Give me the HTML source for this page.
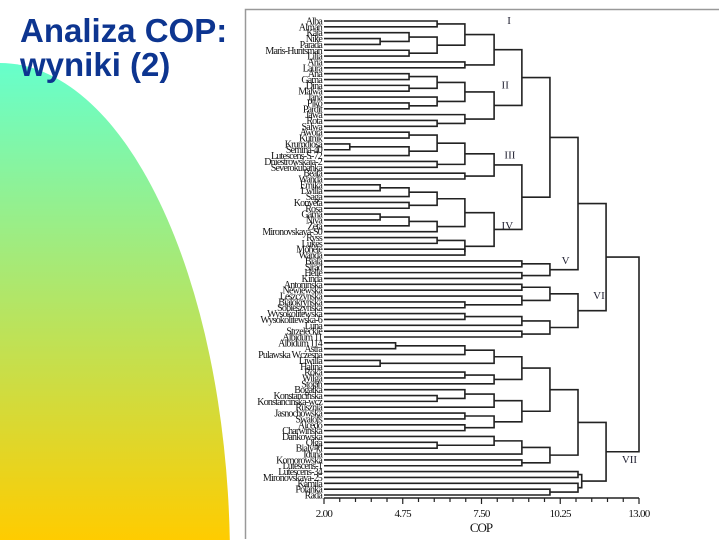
<!DOCTYPE html>
<html><head><meta charset="utf-8"><style>
html,body{margin:0;width:720px;height:540px;overflow:hidden}
body{background:#fff;position:relative;font-family:"Liberation Sans",sans-serif}
#title{position:absolute;left:20px;top:14px;font-size:33px;font-weight:bold;color:#0d3590;line-height:34px}
svg{position:absolute;left:0;top:0}
</style></head><body>
<svg width="720" height="540" style="position:absolute;left:0;top:0">
<defs><linearGradient id="g" x1="0" y1="63" x2="0" y2="540" gradientUnits="userSpaceOnUse"><stop offset="0" stop-color="#66ffcc"/><stop offset="1" stop-color="#ffcc00"/></linearGradient></defs>
<path d="M0,63 A230,497 0 0,1 229.8,540 L0,540 Z" fill="url(#g)"/>
</svg>
<div id="title">Analiza COP:<br>wyniki (2)</div>
<svg id="chart" width="720" height="540"></svg>
<script>
const leaves=["Alba","Alman","Kaja","Nike","Parada","Maris-Huntsman","Lilia","Aria","Laura","Ana","Gama","Dina","Malwa","Jana","Piko","Pardit","Jawa","Rota","Salwa","Awora","Kutnik","Krumdiosa","Semina-40","Lutescens-S-72","Dniestrowskaja-2","Severokubanka","Beata","Wanda","Emika","Lwilla","Saga","Konveta","Rosa","Gama","Niva","Zeta","Mironovskaya-S0","Ryss","Lukes","Mohele","Wanda","Biala","Sirad","Helle","Kinda","Antoninska","Newiewska","Leszczynska","Bialokrynska","Sobieszynska","Wysokolitewska","Wysokolitewska-6","Luna","Strzeleckie","Albidum 11","Albidum 114","Astra","Pulawska Wczesna","Liwilla","Halina","Roka","Wilga","Stojan","Bogatka","Konstancinska","Konstancinska-wcz","Rusznia","Jasnochowska","Swalofs","Alcedo","Charwinska","Dankowska","Olga","Bialy-kl","Iduna","Komorowska","Lutescens-1","Lutescens-34","Mironovskaya-25","Kamila","Polanka","Rada"];
const axisTicks=[2.00,4.75,7.50,10.25,13.00];
const clusterLabels=["I","II","III","IV","V","VI","VII"];
const clusterAt=[[8.4,0,"I"],[8.2,11,"II"],[8.3,23,"III"],[8.2,35,"IV"],[10.3,41,"V"],[11.4,47,"VI"],[12.4,75,"VII"]];
const T_I=[7.94,[6.92,[5.95,0,1],[5.95,[4.97,2,[3.96,3,4]],[4.97,5,6]]],[6.92,7,8]];
const T_II=[7.94,[6.92,[5.95,[4.97,9,10],[4.97,11,12]],[5.95,13,[4.97,14,15]]],[6.92,16,[5.95,17,18]]];
const T_III=[7.94,[6.92,[5.95,[4.97,19,20],[4.97,[2.9,21,22],23]],[5.95,24,25]],[6.92,26,27]];
const T_IV=[7.94,[6.92,[5.95,[4.97,[3.96,28,29],30],[4.97,31,32]],[5.95,[4.97,[3.96,33,34],35],36]],[6.92,[5.95,37,38],[6.92,39,40]]];
const T_V=[9.89,[8.91,41,42],[8.91,43,44]];
const T_VI=[10.87,[9.89,[8.91,45,46],[8.91,47,[6.92,48,49]]],[9.89,[8.91,[6.92,50,51],52],[8.91,53,54]]];
const T_VII=[11.85,[10.87,[9.89,[8.91,[7.94,[6.92,[4.5,55,56],57],[3.96,58,59]],[7.94,[6.92,60,61],62]],[8.91,[7.94,[6.92,63,[5.95,64,65]],66],[7.94,[6.92,67,68],[6.92,69,70]]]],[9.89,[8.91,[7.94,71,[5.95,72,73]],74],[8.91,75,76]]],[11.0,[10.87,77,78],[10.87,79,[9.89,80,81]]]];
const tree=[13.0,[11.85,[10.87,[9.89,[8.91,T_I,T_II],[8.91,T_III,T_IV]],T_V],T_VI],T_VII];

const svg=document.getElementById('chart');const NS='http://www.w3.org/2000/svg';
const X0=324,X1=639,Y0=21,Y1=495,AY=498;
const xs=v=>X0+(v-2)/11*(X1-X0);
const ys=i=>Y0+i*(Y1-Y0)/(leaves.length-1);
function mk(t,a){const e=document.createElementNS(NS,t);for(const k in a)e.setAttribute(k,a[k]);svg.appendChild(e);return e;}
let fr=mk('path',{d:'M245.5,539 V9.5 H719',fill:'none',stroke:'#999','stroke-width':1.5});


leaves.forEach((n,i)=>{const t=mk('text',{x:322,y:ys(i)+3.5,'text-anchor':'end','font-size':10,'font-family':'Liberation Serif,serif','letter-spacing':-0.8,fill:'#111'});t.textContent=n;

});
function layout(n){if(typeof n==='number')return {x:xs(2),y:ys(n)};
const a=layout(n[1]),b=layout(n[2]),x=xs(n[0]);
const p=mk('path',{d:`M${a.x},${a.y} H${x} V${b.y} H${b.x}`,fill:'none',stroke:'#222','stroke-width':1.6});


return {x:x,y:(a.y+b.y)/2};}
layout(tree);
let ax=mk('line',{x1:X0,x2:X1,y1:AY,y2:AY,stroke:'#222','stroke-width':1.4});


for(let k=0;k<=20;k++){const v=2+k*0.55,x=xs(v);mk('line',{x1:x,x2:x,y1:AY,y2:AY+(k%5?4:6),stroke:'#222','stroke-width':1.2});}
axisTicks.forEach(v=>{const t=mk('text',{x:xs(v),y:517,'text-anchor':'middle','font-size':11,'font-family':'Liberation Serif,serif','letter-spacing':-0.7,fill:'#111'});t.textContent=v.toFixed(2);

});
let at=mk('text',{x:481,y:532,'text-anchor':'middle','font-size':13,'font-family':'Liberation Serif,serif','letter-spacing':-1,fill:'#111'});at.textContent='COP';


clusterAt.forEach(c=>{const t=mk('text',{x:xs(c[0]),y:ys(c[1])+3,'font-size':11,'font-family':'Liberation Serif,serif',fill:'#223'});t.textContent=c[2];

});
</script>
</body></html>
